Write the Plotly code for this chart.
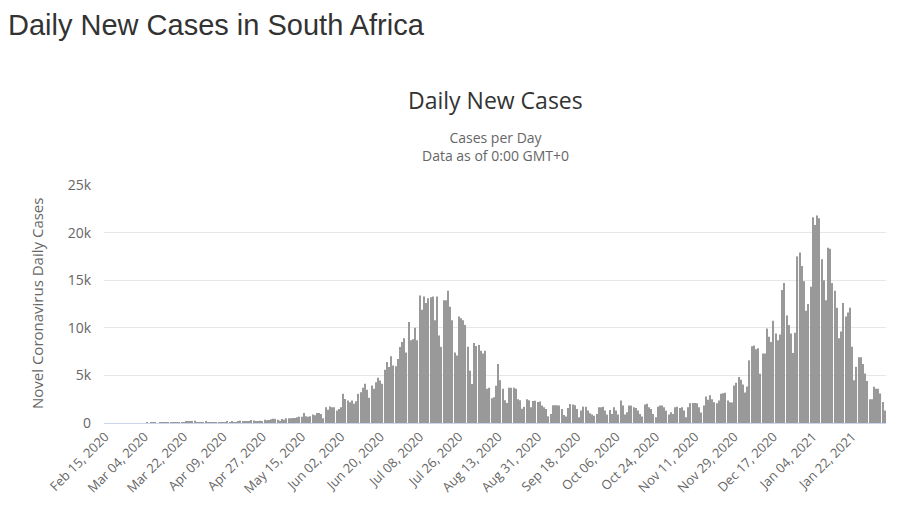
import pandas as pd
import plotly.graph_objects as go

# daily new cases (Feb 15, 2020 -> Feb 07, 2021)
feb_2020 = [0] * 15
mar_2020 = [0, 0, 0, 0, 1, 0, 1, 1, 4, 0, 6, 4, 7, 14, 13, 11, 23, 31, 34, 52, 38, 34,
            128, 152, 155, 218, 243, 17, 93, 46, 27]
apr_2020 = [109, 43, 80, 70, 31, 63, 96, 89, 69, 25, 145, 99, 143, 91, 99, 178, 251, 124,
            142, 165, 170, 318, 267, 141, 185, 247, 203, 354, 297, 304]
may_2020 = [385, 447, 437, 352, 246, 422, 352, 493, 493, 493, 528, 528, 598, 669, 669, 1056,
            704, 669, 704, 880, 810, 1056, 1056, 950, 493, 1654, 1380, 1725, 1654, 1654, 1302]
jun_2020 = [1480, 1650, 3060, 2530, 2360, 2180, 2360, 2010, 2290, 3060, 3240, 3700, 4120, 3490,
            2640, 3940, 3590, 4290, 4750, 4470, 4120, 5600, 6410, 5880, 7000, 6050, 5950, 6720,
            7990, 8520]
jul_2020 = [8900, 7400, 10600, 8700, 8800, 10000, 8700, 13400, 11900, 13300, 12600, 13100, 13200,
            13300, 10800, 13300, 9200, 8000, 12900, 12900, 13900, 12200, 10800, 7400, 7100, 11200,
            11000, 10800, 10300, 8000, 5500]
aug_2020 = [4100, 8400, 8100, 8200, 7600, 7300, 7600, 3600, 3700, 2600, 2700, 3900, 6200, 4500,
            3600, 2400, 2100, 3700, 3700, 3700, 3600, 2500, 2400, 1500, 1700, 2500, 2400, 1650,
            2300, 2350, 2200]
sep_2020 = [2250, 1830, 1650, 1480, 700, 950, 1870, 1870, 1870, 1830, 1480, 850, 670, 1580, 2000,
            1940, 1870, 1480, 600, 1300, 1720, 1720, 1300, 1020, 880, 770, 950, 1650, 1650, 1720]
oct_2020 = [1300, 880, 1370, 950, 1650, 1300, 880, 2360, 1830, 880, 1130, 1830, 1830, 1650, 1580,
            1300, 950, 670, 1940, 2010, 1650, 1480, 950, 600, 1720, 1830, 1830, 1650, 1300, 880, 1130]
nov_2020 = [950, 1650, 1720, 1580, 1650, 1300, 600, 1650, 2080, 2110, 2110, 2080, 1650, 1100,
            1830, 2780, 2430, 2920, 2500, 2180, 2080, 2360, 3060, 3130, 3170, 2360, 2180, 2150,
            3940, 4220]
dec_2020 = [4820, 4540, 4050, 3200, 3840, 6580, 8060, 8130, 7740, 7850, 5170, 7290, 7290, 9930,
            9050, 8520, 10740, 9400, 8690, 9290, 13980, 14700, 11300, 10300, 9400, 7360, 9470,
            17500, 17900, 16500, 14900]
jan_2021 = [11800, 12500, 14300, 21600, 20800, 21800, 21500, 17200, 15000, 12900, 18400, 18300,
            14700, 13900, 12100, 8900, 9600, 12600, 11200, 11600, 12100, 8000, 4500, 5900, 6900,
            6900, 6200, 5200, 4400, 2500, 2500]
feb_2021 = [3800, 3600, 3600, 3100, 2200, 1300]

START_DATE = "2020-02-15"
TICK_LABELS = ["Feb 15, 2020", "Mar 04, 2020", "Mar 22, 2020", "Apr 09, 2020", "Apr 27, 2020",
               "May 15, 2020", "Jun 02, 2020", "Jun 20, 2020", "Jul 08, 2020", "Jul 26, 2020",
               "Aug 13, 2020", "Aug 31, 2020", "Sep 18, 2020", "Oct 06, 2020", "Oct 24, 2020",
               "Nov 11, 2020", "Nov 29, 2020", "Dec 17, 2020", "Jan 04, 2021", "Jan 22, 2021"]
Y_TICKS = [0, 5000, 10000, 15000, 20000, 25000]
Y_TICK_TEXT = ["0", "5k", "10k", "15k", "20k", "25k"]

cases = (feb_2020 + mar_2020 + apr_2020 + may_2020 + jun_2020 + jul_2020 + aug_2020
         + sep_2020 + oct_2020 + nov_2020 + dec_2020 + jan_2021 + feb_2021)
days = pd.date_range(START_DATE, periods=len(cases), freq="D").strftime("%b %d, %Y").tolist()

FONT = "Open Sans, Lato, sans-serif"
GREY = "#666666"

fig = go.Figure(
    go.Bar(
        x=days,
        y=cases,
        marker=dict(color="#999999", line=dict(width=0)),
        hovertemplate="%{x}<br>%{y:,}<extra></extra>",
    )
)

# the page body adds an 8px margin, so the figure is 892x513 and sits 8px in;
# plot area is 782 x 238 px and annotations are placed relative to it
fig.update_layout(
    width=892,
    height=513,
    margin=dict(l=96, r=14, t=177, b=98, autoexpand=False),
    paper_bgcolor="#ffffff",
    plot_bgcolor="#ffffff",
    bargap=0.5,
    showlegend=False,
    font=dict(family=FONT, color=GREY, size=12),
    title=dict(
        text="Daily New Cases in South Africa",
        x=0.0, xanchor="left", y=1 - 17 / 513, yanchor="middle", pad=dict(l=0, t=0),
        font=dict(family="Liberation Sans, Arial, sans-serif", size=29, color="#333333"),
    ),
    annotations=[
        dict(text="Daily New Cases", xref="paper", yref="paper", x=0.5, y=(423 - 100) / 238,
             xanchor="center", yanchor="middle", showarrow=False,
             font=dict(family=FONT, size=23, color="#333333")),
        dict(text="Cases per Day<br>Data as of 0:00 GMT+0", xref="paper", yref="paper",
             x=0.5, y=(423 - 147) / 238, xanchor="center", yanchor="middle", showarrow=False,
             font=dict(family=FONT, size=14, color=GREY)),
        dict(text="Novel Coronavirus Daily Cases", xref="paper", yref="paper",
             x=(37 - 104) / 782, y=0.5, textangle=-90, xanchor="center", yanchor="middle",
             showarrow=False, font=dict(family=FONT, size=15, color=GREY)),
    ],
)

fig.update_xaxes(
    type="category",
    tickmode="array",
    tickvals=TICK_LABELS,
    ticktext=TICK_LABELS,
    tickangle=-45,
    tickfont=dict(size=13, color=GREY),
    showgrid=False,
    showline=True,
    linecolor="#ccd6eb",
    ticks="",
    automargin=False,
)
fig.update_yaxes(
    range=[0, 25000],
    tickvals=Y_TICKS,
    ticktext=Y_TICK_TEXT,
    tickfont=dict(size=14, color=GREY),
    gridcolor="#e6e6e6",
    zeroline=False,
    ticklabelstandoff=12,
    automargin=False,
)

fig.write_html("out.html")
